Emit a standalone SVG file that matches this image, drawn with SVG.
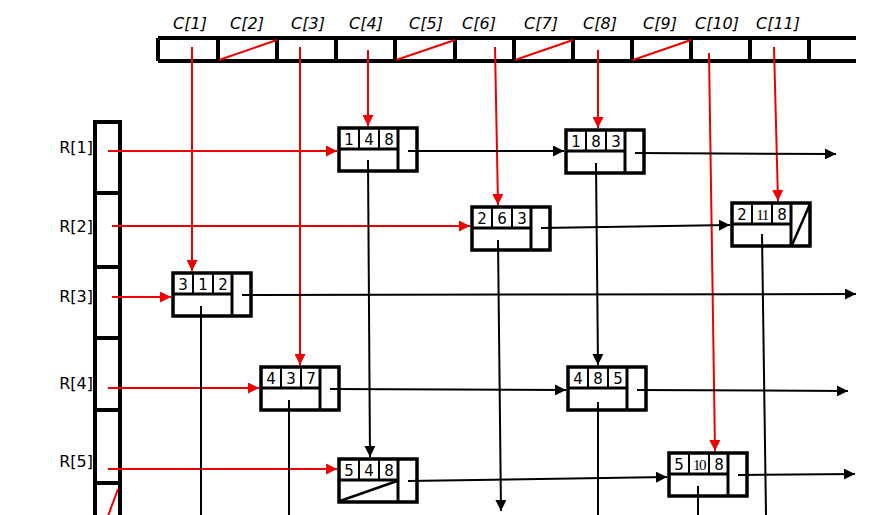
<svg xmlns="http://www.w3.org/2000/svg" width="891" height="515" viewBox="0 0 891 515">
<defs>
<marker id="ab" viewBox="0 0 10 10" refX="10" refY="5" markerWidth="5.5" markerHeight="5.5" orient="auto" markerUnits="strokeWidth"><path d="M0,0 L10,5 L0,10 z" fill="#000"/></marker>
<marker id="ar" viewBox="0 0 10 10" refX="10" refY="5" markerWidth="5.5" markerHeight="5.5" orient="auto" markerUnits="strokeWidth"><path d="M0,0 L10,5 L0,10 z" fill="#e00"/></marker>
<g id="node">
<rect x="0" y="0" width="78" height="43" fill="#fff" stroke="#000" stroke-width="3.5"/>
<line x1="59" y1="0" x2="59" y2="43" stroke="#000" stroke-width="3"/>
<line x1="0" y1="21" x2="59" y2="21" stroke="#000" stroke-width="3"/>
<line x1="20" y1="0" x2="20" y2="21" stroke="#000" stroke-width="2"/>
<line x1="40" y1="0" x2="40" y2="21" stroke="#000" stroke-width="2"/>
</g>
</defs>
<style>
.lbl{font-family:"DejaVu Sans",sans-serif;font-size:16px;fill:#000}
.clbl{font-family:"DejaVu Sans",sans-serif;font-size:16px;font-style:italic;fill:#000;text-anchor:middle}
.num{font-family:"DejaVu Sans",sans-serif;font-size:15px;fill:#000;text-anchor:middle}
.nums{font-family:"Liberation Serif",serif;font-size:15px;fill:#000;text-anchor:middle;letter-spacing:-1.5px}
.arr{stroke:#000;stroke-width:2;fill:none}
.red{stroke:#e00;stroke-width:2;fill:none}
.thick{stroke:#000;stroke-width:4;fill:none}
</style>
<rect width="891" height="515" fill="#fff"/>

<g id="col-array">
<g class="clbl">
<text x="190" y="29">C[1]</text>
<text x="247" y="29">C[2]</text>
<text x="308" y="29">C[3]</text>
<text x="366" y="29">C[4]</text>
<text x="426" y="29">C[5]</text>
<text x="479" y="29">C[6]</text>
<text x="541" y="29">C[7]</text>
<text x="600" y="29">C[8]</text>
<text x="660" y="29">C[9]</text>
<text x="717" y="29">C[10]</text>
<text x="778" y="29">C[11]</text>
</g>
<path class="thick" d="M158,38 H856 M158,61 H856 M158,38 V61 M218,38 V61 M277,38 V61 M336,38 V61 M395,38 V61 M455,38 V61 M514,38 V61 M573,38 V61 M632,38 V61 M691,38 V61 M750,38 V61 M809,38 V61"/>
<g class="red" stroke-width="2.5">
<line x1="219" y1="60" x2="277" y2="40"/>
<line x1="396" y1="60" x2="455" y2="40"/>
<line x1="515" y1="60" x2="573" y2="40"/>
<line x1="633" y1="60" x2="691" y2="40"/>
</g>
</g>

<g id="row-array">
<g class="lbl" text-anchor="end">
<text x="93" y="153">R[1]</text>
<text x="93" y="232">R[2]</text>
<text x="93" y="302">R[3]</text>
<text x="93" y="389">R[4]</text>
<text x="93" y="467">R[5]</text>
</g>
<path class="thick" d="M95,520 V122 H120 V520 M95,193 H120 M95,267 H120 M95,338 H120 M95,410 H120 M95,483 H120"/>
<line class="red" x1="108" y1="516" x2="118" y2="489"/>
</g>

<g id="n148" transform="translate(339,128)"><use href="#node"/><text class="num" x="10" y="17">1</text><text class="num" x="30" y="17">4</text><text class="num" x="50" y="17">8</text></g>
<g id="n183" transform="translate(566,130)"><use href="#node"/><text class="num" x="10" y="17">1</text><text class="num" x="30" y="17">8</text><text class="num" x="50" y="17">3</text></g>
<g id="n263" transform="translate(472,207)"><use href="#node"/><text class="num" x="10" y="17">2</text><text class="num" x="30" y="17">6</text><text class="num" x="50" y="17">3</text></g>
<g id="n2118" transform="translate(732,203)"><use href="#node"/><text class="num" x="10" y="17">2</text><text class="nums" x="30" y="17">11</text><text class="num" x="50" y="17">8</text><line x1="60" y1="42" x2="78" y2="1" stroke="#000" stroke-width="2.5"/></g>
<g id="n312" transform="translate(173,273)"><use href="#node"/><text class="num" x="10" y="17">3</text><text class="num" x="30" y="17">1</text><text class="num" x="50" y="17">2</text></g>
<g id="n437" transform="translate(261,367)"><use href="#node"/><text class="num" x="10" y="17">4</text><text class="num" x="30" y="17">3</text><text class="num" x="50" y="17">7</text></g>
<g id="n485" transform="translate(568,367)"><use href="#node"/><text class="num" x="10" y="17">4</text><text class="num" x="30" y="17">8</text><text class="num" x="50" y="17">5</text></g>
<g id="n548" transform="translate(339,459)"><use href="#node"/><text class="num" x="10" y="17">5</text><text class="num" x="30" y="17">4</text><text class="num" x="50" y="17">8</text><line x1="1" y1="42" x2="58" y2="22" stroke="#000" stroke-width="2.5"/></g>
<g id="n5108" transform="translate(669,453)"><use href="#node"/><text class="num" x="10" y="17">5</text><text class="nums" x="30" y="17">10</text><text class="num" x="50" y="17">8</text></g>

<g id="connectors">
<g class="red" marker-end="url(#ar)">
<line x1="192" y1="47" x2="192" y2="271"/>
<line x1="300" y1="47" x2="300" y2="365"/>
<line x1="368" y1="50" x2="368" y2="126"/>
<line x1="495" y1="47" x2="498" y2="205"/>
<line x1="598" y1="50" x2="598" y2="128"/>
<line x1="709" y1="53" x2="715" y2="451"/>
<line x1="774" y1="47" x2="778" y2="201"/>
<line x1="108" y1="151" x2="337" y2="151"/>
<line x1="112" y1="226" x2="470" y2="226"/>
<line x1="112" y1="297" x2="171" y2="297"/>
<line x1="108" y1="388" x2="259" y2="388"/>
<line x1="108" y1="469" x2="337" y2="469"/>
</g>
<g class="arr" marker-end="url(#ab)">
<line x1="408" y1="151" x2="564" y2="151"/>
<line x1="635" y1="153" x2="836" y2="154"/>
<line x1="541" y1="228" x2="730" y2="225"/>
<line x1="242" y1="295" x2="856" y2="294"/>
<line x1="330" y1="389" x2="566" y2="390"/>
<line x1="637" y1="390" x2="848" y2="391"/>
<line x1="408" y1="481" x2="667" y2="477"/>
<line x1="738" y1="475" x2="855" y2="474"/>
<line x1="368" y1="160" x2="370" y2="457"/>
<line x1="498" y1="240" x2="501" y2="511"/>
<line x1="596" y1="163" x2="598" y2="365"/>
</g>
<g class="arr">
<line x1="201" y1="306" x2="201" y2="515"/>
<line x1="289" y1="400" x2="289" y2="515"/>
<line x1="598" y1="402" x2="598" y2="515"/>
<line x1="698" y1="486" x2="698" y2="515"/>
<line x1="762" y1="234" x2="766" y2="515"/>
</g>
</g>
</svg>
